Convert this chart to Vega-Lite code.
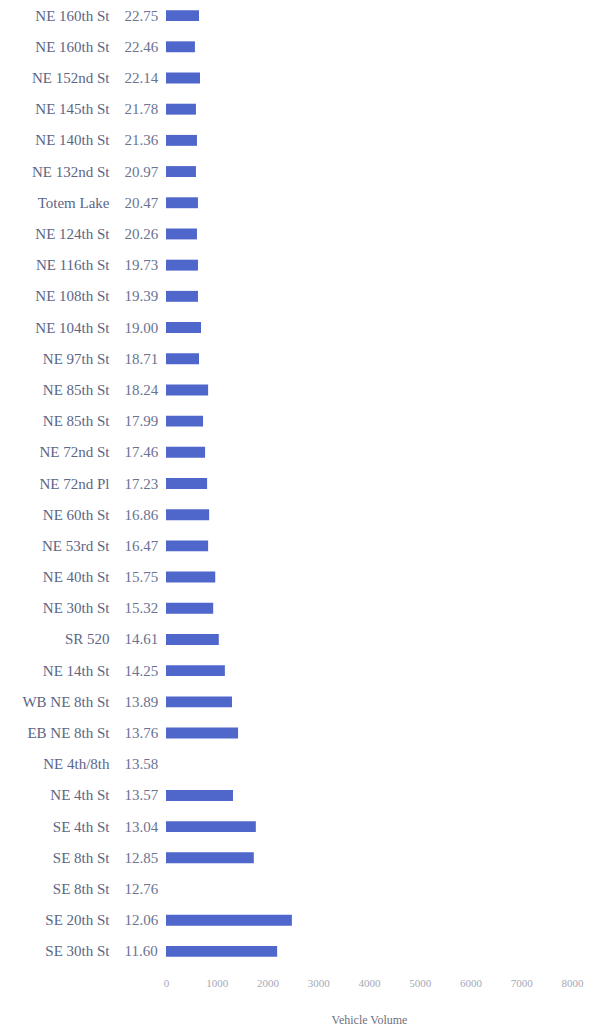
{
  "$schema": "https://vega.github.io/schema/vega-lite/v6.json",
  "width": 406,
  "height": 967,
  "autosize": {"type": "none"},
  "padding": {"left": 166, "top": 0, "right": 22, "bottom": 65},
  "background": "white",
  "config": {"view": {"stroke": null}, "font": "Liberation Serif"},
  "data": {
    "values": [
      {"key": "NE 160th St|22.75", "volume": 650},
      {"key": "NE 160th St|22.46", "volume": 570},
      {"key": "NE 152nd St|22.14", "volume": 670},
      {"key": "NE 145th St|21.78", "volume": 590},
      {"key": "NE 140th St|21.36", "volume": 610},
      {"key": "NE 132nd St|20.97", "volume": 590},
      {"key": "Totem Lake|20.47", "volume": 630},
      {"key": "NE 124th St|20.26", "volume": 610},
      {"key": "NE 116th St|19.73", "volume": 630},
      {"key": "NE 108th St|19.39", "volume": 630},
      {"key": "NE 104th St|19.00", "volume": 690},
      {"key": "NE 97th St|18.71", "volume": 650},
      {"key": "NE 85th St|18.24", "volume": 830},
      {"key": "NE 85th St|17.99", "volume": 730},
      {"key": "NE 72nd St|17.46", "volume": 770},
      {"key": "NE 72nd Pl|17.23", "volume": 810},
      {"key": "NE 60th St|16.86", "volume": 850},
      {"key": "NE 53rd St|16.47", "volume": 830},
      {"key": "NE 40th St|15.75", "volume": 970},
      {"key": "NE 30th St|15.32", "volume": 930},
      {"key": "SR 520|14.61", "volume": 1040},
      {"key": "NE 14th St|14.25", "volume": 1160},
      {"key": "WB NE 8th St|13.89", "volume": 1300},
      {"key": "EB NE 8th St|13.76", "volume": 1420},
      {"key": "NE 4th/8th|13.58", "volume": 0},
      {"key": "NE 4th St|13.57", "volume": 1320},
      {"key": "SE 4th St|13.04", "volume": 1770},
      {"key": "SE 8th St|12.85", "volume": 1730},
      {"key": "SE 8th St|12.76", "volume": 0},
      {"key": "SE 20th St|12.06", "volume": 2480},
      {"key": "SE 30th St|11.60", "volume": 2190}
    ]
  },
  "layer": [
    {
      "mark": {"type": "bar", "color": "#4f66cb", "strokeWidth": 0},
      "encoding": {
        "y": {
          "field": "key", "type": "nominal", "sort": null,
          "scale": {"paddingInner": 0.65, "paddingOuter": 0.325},
          "axis": {
            "orient": "left", "title": null, "domain": false, "ticks": false, "tickSize": 0,
            "labelExpr": "split(datum.value, '|')[1]",
            "labelAlign": "left", "labelPadding": 42,
            "labelFont": "Liberation Serif", "labelFontSize": 15, "labelColor": "#6a7392"
          }
        },
        "x": {
          "field": "volume", "type": "quantitative",
          "scale": {"domain": [0, 8000], "nice": false},
          "axis": {
            "values": [0, 1000, 2000, 3000, 4000, 5000, 6000, 7000, 8000],
            "format": "d", "grid": false, "domain": false, "ticks": false, "tickSize": 0,
            "labelFlush": false, "labelOverlap": false,
            "labelPadding": 10, "labelFont": "Liberation Serif", "labelFontSize": 11,
            "labelColor": "#a6a8b6", "title": "Vehicle Volume", "titleFont": "Liberation Serif",
            "titleFontSize": 12, "titleFontWeight": "normal", "titleColor": "#6e7080", "titlePadding": 26
          }
        }
      }
    },
    {
      "mark": {"type": "bar", "opacity": 0},
      "encoding": {
        "y": {
          "field": "key", "type": "nominal", "sort": null,
          "axis": {
            "orient": "left", "title": null, "domain": false, "ticks": false, "tickSize": 0,
            "labelExpr": "split(datum.value, '|')[0]",
            "labelAlign": "right", "labelPadding": 57,
            "labelFont": "Liberation Serif", "labelFontSize": 15, "labelColor": "#5c6585"
          }
        },
        "x": {"field": "volume", "type": "quantitative"}
      }
    }
  ],
  "resolve": {"axis": {"y": "independent"}}
}
